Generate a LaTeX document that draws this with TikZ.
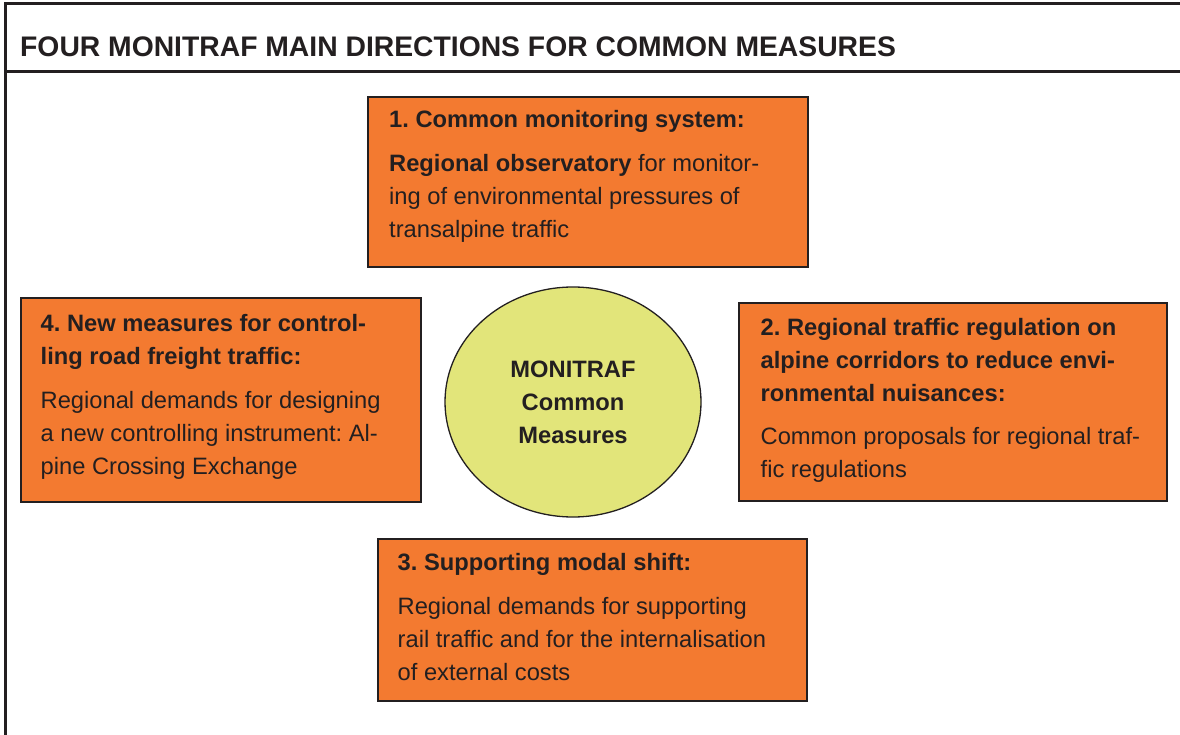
\documentclass[tikz,border=0pt]{standalone}
\usepackage{fontspec}
\setmainfont{Liberation Sans}
\usetikzlibrary{shapes.geometric}
\frenchspacing
\definecolor{ink}{RGB}{35,31,32}
\definecolor{boxorange}{RGB}{243,122,48}
\definecolor{hubyellow}{RGB}{226,229,122}
\tikzset{
  obox/.style={draw=ink, line width=2pt, fill=boxorange, rectangle, inner sep=0pt, anchor=north west},
  txt/.style={text=ink, inner sep=0pt, anchor=base west, align=left, font=\fontsize{23.7}{33}\selectfont},
  hub/.style={draw=ink, line width=1.3pt, fill=hubyellow, ellipse, inner sep=0pt, minimum width=256pt, minimum height=230pt},
  frame/.style={draw=ink, line width=3pt}
}
\begin{document}
\begin{tikzpicture}[x=1pt,y=-1pt]
\useasboundingbox (0,0) rectangle (1180,735);
\coordinate (fbl) at (5,735);
\coordinate (ftl) at (5,4);
\coordinate (ftr) at (1180,4);
\coordinate (hl) at (5,72);
\coordinate (hr) at (1180,72);
\draw[frame] (fbl) -- (ftl) -- (ftr);
\draw[frame] (hl) -- (hr);
\node[text=ink, inner sep=0pt, anchor=base west, font=\fontsize{28.3}{32}\selectfont\bfseries] (title) at (20,57) {FOUR MONITRAF MAIN DIRECTIONS FOR COMMON MEASURES};

\node[obox, minimum width=440pt, minimum height=170pt] (b1) at (367,96) {};
\node[obox, minimum width=400pt, minimum height=204pt] (b4) at (20,297) {};
\node[obox, minimum width=428pt, minimum height=198pt] (b2) at (738,302) {};
\node[obox, minimum width=429pt, minimum height=162pt] (b3) at (377,538) {};
\node[hub] (hub) at (573,402) {};

\node[txt] (t1) at (389,238) {\textbf{1. Common monitoring system:}\\[11pt]\textbf{Regional observatory} for monitor-\\ing of environmental pressures of\\transalpine traffic};
\node[txt] (t4) at (40.5,474) {\textbf{4. New measures for control-}\\\textbf{ling road freight traffic:}\\[11pt]Regional demands for designing\\a new controlling instrument: Al-\\pine Crossing Exchange};
\node[txt] (t2) at (760.5,477) {\textbf{2. Regional traffic regulation on}\\\textbf{alpine corridors to reduce envi-}\\\textbf{ronmental nuisances:}\\[10pt]Common proposals for regional traf-\\fic regulations};
\node[txt] (t3) at (397.5,680) {\textbf{3. Supporting modal shift:}\\[11pt]Regional demands for supporting\\rail traffic and for the internalisation\\of external costs};
\node[text=ink, inner sep=0pt, align=center, anchor=base, font=\fontsize{23.7}{33}\selectfont\bfseries] (ht) at (573,443) {MONITRAF\\Common\\Measures};
\end{tikzpicture}
\end{document}
